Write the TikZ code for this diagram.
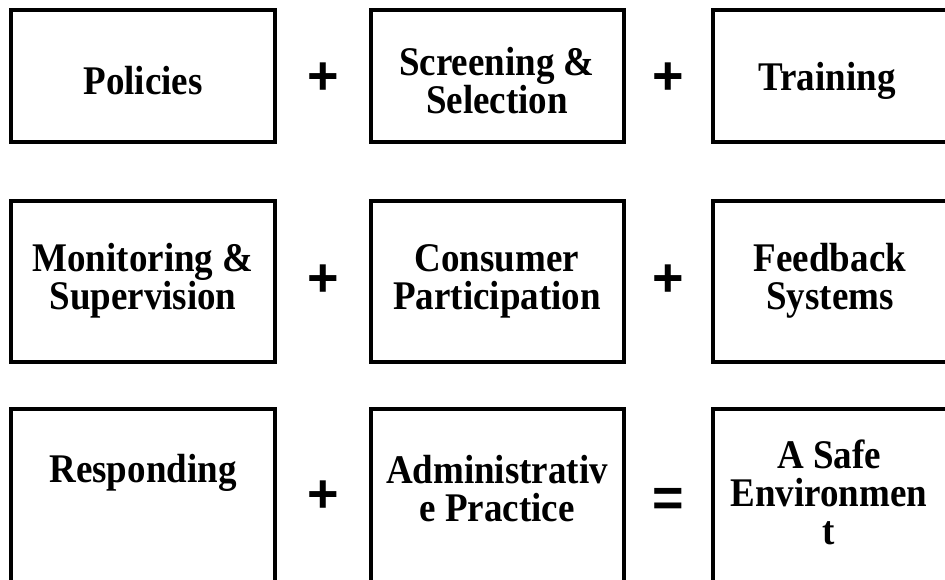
\documentclass[tikz,border=0pt]{standalone}
\usepackage{fontspec}
\setmainfont{Liberation Serif}
\newfontfamily\signfont{Liberation Sans}

\tikzset{
  part/.style={draw, line width=4pt, inner sep=0pt, outer sep=0pt, anchor=north west},
  parttext/.style={font=\bfseries\fontsize{37}{34.5}\selectfont, align=center, inner sep=0pt, yscale=1.1},
  sign/.style={font=\signfont\bfseries\fontsize{54}{54}\selectfont, inner sep=0pt}
}

\begin{document}
\begin{tikzpicture}[x=1pt, y=-1pt]
                \useasboundingbox (0,0) rectangle (945,579);
                % boxes, row by row
                \node[part, minimum width=264pt, minimum height=132pt] (policies) at (11,10) {};
                \node[part, minimum width=253pt, minimum height=132pt] (screening) at (371,10) {};
                \node[part, minimum width=240pt, minimum height=132pt] (training) at (713,10) {};
                \node[part, minimum width=264pt, minimum height=161pt] (monitoring) at (11,201) {};
                \node[part, minimum width=253pt, minimum height=161pt] (consumer) at (371,201) {};
                \node[part, minimum width=240pt, minimum height=161pt] (feedback) at (713,201) {};
                \node[part, minimum width=264pt, minimum height=190pt] (responding) at (11,409) {};
                \node[part, minimum width=253pt, minimum height=190pt] (admin) at (371,409) {};
                \node[part, minimum width=240pt, minimum height=190pt] (safe) at (713,409) {};
                % texts
                \node[parttext] (t-policies) at (143,81) {Policies};
                \node[parttext] (t-screening) at (497,81) {Screening \&\\Selection};
                \node[parttext] (t-training) at (827,81) {Training};
                \node[parttext] (t-monitoring) at (143,281) {Monitoring \&\\Supervision};
                \node[parttext] (t-consumer) at (497,281) {Consumer\\Participation};
                \node[parttext] (t-feedback) at (830,281) {Feedback\\Systems};
                \node[parttext] (t-responding) at (143,473) {Responding};
                \node[parttext] (t-admin) at (497,489) {Administrativ\\e Practice};
                \node[parttext] (t-safe) at (829,492) {A Safe\\Environmen\\t};
                % plus and equals signs
                \node[sign] (plus1) at (323,79) {+};
                \node[sign] (plus2) at (668,79) {+};
                \node[sign] (plus3) at (323,281) {+};
                \node[sign] (plus4) at (668,281) {+};
                \node[sign] (plus5) at (323,497) {+};
                \node[sign] (equals) at (668,502) {=};
            \end{tikzpicture}
\end{document}
